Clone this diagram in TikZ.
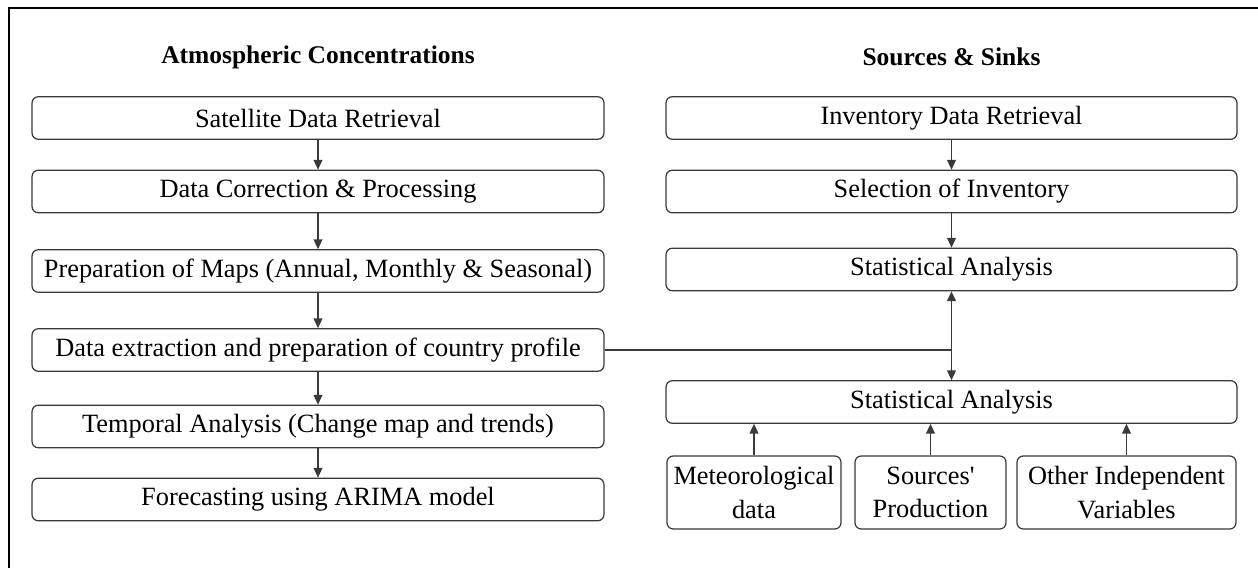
\documentclass[tikz,border=0pt]{standalone}
\usepackage{fontspec}
\setmainfont{Liberation Serif}[Ligatures=TeXOff]
\usetikzlibrary{arrows.meta}
\definecolor{boxgray}{HTML}{3A3A3A}
\tikzset{
  stage/.style={rectangle,rounded corners=3.5pt,draw=boxgray,line width=0.7pt,fill=white,minimum height=0.85cm,inner sep=0pt,align=center,font=\rmfamily\fontsize{15}{19}\selectfont},
  leftstage/.style={stage,minimum width=11.44cm},
  rightstage/.style={stage,minimum width=11.42cm},
  inputbox/.style={stage,minimum height=1.46cm},
  heading/.style={font=\rmfamily\fontsize{14.5}{17}\selectfont\bfseries},
  arrow/.style={-{Triangle[length=5.5pt,width=5pt]},line width=0.7pt,draw=boxgray},
  line/.style={line width=0.7pt,draw=boxgray}
}

\begin{document}
\begin{tikzpicture}[x=0.02cm,y=-0.02cm]
  \useasboundingbox (0,0) rectangle (1258,568);
  % frame (only top and left edge fall inside the page)
  \draw[line width=1.4pt,black] (9,580) -- (9,8) -- (1270,8);

  \node[heading] (atmtitle) at (318,57) {Atmospheric Concentrations};
  \node[heading] (srctitle) at (951.5,57) {Sources \& Sinks};

  % left column
  \node[leftstage] (satret) at (318,118) {Satellite Data Retrieval};
  \node[leftstage] (datacorr) at (318,191.5) {Data Correction \& Processing};
  \node[leftstage] (maps) at (318,271) {Preparation of Maps (Annual, Monthly \& Seasonal)};
  \node[leftstage] (extract) at (318,350) {Data extraction and preparation of country profile};
  \node[leftstage] (temporal) at (318,426.5) {Temporal Analysis (Change map and trends)};
  \node[leftstage] (arima) at (318,499.5) {Forecasting using ARIMA model};

  % right column
  \node[rightstage] (invret) at (951.5,118) {Inventory Data Retrieval};
  \node[rightstage] (invsel) at (951.5,191.5) {Selection of Inventory};
  \node[rightstage] (statA) at (951.5,269.5) {Statistical Analysis};
  \node[rightstage] (statB) at (951.5,402) {Statistical Analysis};

  \node[inputbox,minimum width=3.48cm] (meteo) at (754,492.5) {Meteorological\\data};
  \node[inputbox,minimum width=3.02cm] (prod) at (930.5,492.5) {Sources'\\Production};
  \node[inputbox,minimum width=4.38cm] (others) at (1126.5,492.5) {Other Independent\\Variables};

  \draw[arrow] (satret) -- (datacorr);
  \draw[arrow] (datacorr) -- (maps);
  \draw[arrow] (maps) -- (extract);
  \draw[arrow] (extract) -- (temporal);
  \draw[arrow] (temporal) -- (arima);

  \draw[arrow] (invret) -- (invsel);
  \draw[arrow] (invsel) -- (statA);

  \draw[line] (extract.east) -- (extract.east -| statA.south) coordinate (junc);
  \draw[arrow] (junc) -- (statA.south);
  \draw[arrow] (junc) -- (statB.north);

  \draw[arrow] (meteo.north) -- (meteo.north |- statB.south);
  \draw[arrow] (prod.north) -- (prod.north |- statB.south);
  \draw[arrow] (others.north) -- (others.north |- statB.south);
\end{tikzpicture}
\end{document}
